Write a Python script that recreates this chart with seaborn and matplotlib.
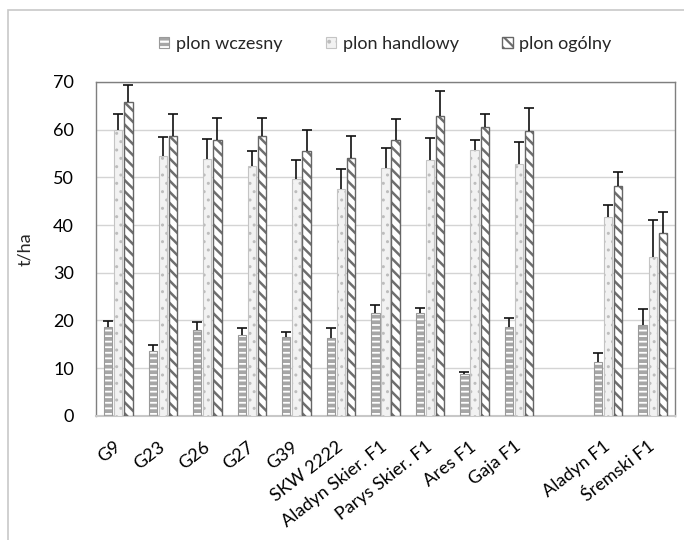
import numpy as np
import pandas as pd
import seaborn as sns
import matplotlib
matplotlib.use("Agg")
import matplotlib.pyplot as plt
from matplotlib.patches import Rectangle
from matplotlib.colors import to_rgba

# ---- data ----
categories = ["G9", "G23", "G26", "G27", "G39", "SKW 2222", "Aladyn Skier. F1",
              "Parys Skier. F1", "Ares F1", "Gaja F1", "", "Aladyn F1", "Śremski F1"]
series = ["plon wczesny", "plon handlowy", "plon ogólny"]

wczesny = [18.7, 13.5, 18.0, 17.0, 16.6, 16.4, 21.6, 21.6, 8.8, 18.6, np.nan, 11.2, 19.0]
handlowy = [60.0, 54.5, 53.8, 52.4, 49.6, 47.5, 52.0, 53.6, 55.7, 52.7, np.nan, 41.6, 33.2]
ogolny = [65.8, 58.6, 57.8, 58.7, 55.6, 54.0, 57.9, 62.8, 60.6, 59.7, np.nan, 48.2, 38.3]

wczesny_err = [1.1, 1.3, 1.7, 1.3, 1.0, 1.9, 1.7, 0.9, 0.3, 1.8, np.nan, 1.9, 3.4]
handlowy_err = [3.3, 4.0, 4.2, 3.1, 4.0, 4.2, 4.1, 4.7, 2.1, 4.8, np.nan, 2.6, 7.9]
ogolny_err = [3.6, 4.6, 4.6, 3.7, 4.4, 4.7, 4.3, 5.4, 2.6, 4.9, np.nan, 3.0, 4.5]

yticks = [0, 10, 20, 30, 40, 50, 60, 70]

rows = []
for s, vals, errs in zip(series, [wczesny, handlowy, ogolny],
                         [wczesny_err, handlowy_err, ogolny_err]):
    for c, v, e in zip(categories, vals, errs):
        if not np.isnan(v):
            rows.append({"cat": c, "series": s, "value": v, "err": e})
df = pd.DataFrame(rows)

# ---- style ----
sns.set_style("white")
plt.rcParams["font.family"] = ["Lato", "DejaVu Sans"]
plt.rcParams["hatch.linewidth"] = 1.6

fig = plt.figure(figsize=(6.84, 5.40), dpi=100)
ax = fig.add_axes([96 / 684, 1 - 415.7 / 540, (675 - 96) / 684, (415.7 - 82) / 540])

sns.barplot(data=df, x="cat", y="value", hue="series", order=categories,
            hue_order=series, width=0.68, gap=0.18, errorbar=None,
            legend=False, ax=ax, zorder=3)

styles = {
    "plon wczesny": dict(fc="#a6a6a6", ec="#9a9a9a", hc="white", lw=0.8,
                         hatch="---", hlw=1.3),
    "plon handlowy": dict(fc="#f2f2f2", ec="#c4c4c4", hc="#bdbdbd", lw=0.8,
                          hatch="..", hlw=1.0),
    "plon ogólny": dict(fc="white", ec="#666666", hc="#6e6e6e", lw=1.0,
                        hatch="\\\\\\", hlw=1.8),
}
err_lookup = {(r.cat, r.series): r.err for r in df.itertuples()}


def style_patch(p, st):
    p.set_facecolor(st["fc"])
    p.set_edgecolor(st["ec"])
    p.set_linewidth(st["lw"])
    p.set_hatch(st["hatch"])
    if hasattr(p, "set_hatchcolor"):
        p.set_hatchcolor(st["hc"])
    else:
        p._hatch_color = to_rgba(st["hc"])
    if hasattr(p, "set_hatch_linewidth"):
        p.set_hatch_linewidth(st["hlw"])


handles = []
for s, cont in zip(series, ax.containers):
    st = styles[s]
    xs, ys, es = [], [], []
    for p in cont.patches:
        style_patch(p, st)
        xc = p.get_x() + p.get_width() / 2
        h = p.get_height()
        if np.isnan(h) or h == 0:
            continue
        cat = categories[int(round(xc))]
        xs.append(xc)
        ys.append(h)
        es.append(err_lookup[(cat, s)])
    eb = ax.errorbar(xs, ys, yerr=[np.zeros(len(es)), es], fmt="none",
                     ecolor="#111111", elinewidth=1.2, capsize=3.6, capthick=1.2,
                     zorder=4)
    caps = eb[1]
    if len(caps) >= 2:
        caps[0].set_visible(False)
    hp = Rectangle((0, 0), 1, 1, label=s)
    style_patch(hp, st)
    handles.append(hp)

ax.set_xlim(-0.5, len(categories) - 0.5)
ax.set_ylim(0, 70)
ax.set_yticks(yticks)
ax.set_yticklabels([str(t) for t in yticks])
ax.yaxis.grid(True, color="#d4d4d4", linewidth=1.0, zorder=0)
ax.xaxis.grid(False)
ax.set_axisbelow(True)
ax.set_xlabel("")
ax.set_ylabel("t/ha", fontsize=13, labelpad=14)

ax.tick_params(axis="y", length=0, pad=16, labelsize=13, colors="#000000")
ax.tick_params(axis="x", length=0, pad=21, labelsize=13, colors="#000000")
for lab in ax.get_xticklabels():
    lab.set_rotation(38)
    lab.set_ha("right")
    lab.set_va("center")
    lab.set_rotation_mode("anchor")

for side in ["top", "left", "right"]:
    ax.spines[side].set_color("#7f7f7f")
    ax.spines[side].set_linewidth(1.0)
ax.spines["bottom"].set_color("#c8c8c8")
ax.spines["bottom"].set_linewidth(1.5)

fig.legend(handles=handles, labels=series, loc="center",
           bbox_to_anchor=(385 / 684, 1 - 44 / 540), ncol=3, frameon=False,
           fontsize=13, handlelength=0.6, handleheight=0.6, handletextpad=0.35,
           columnspacing=2.4)

# outer chart border
fig.patches.append(Rectangle((8 / 684, -0.02), 1.0, 1 - 10 / 540 + 0.02,
                             transform=fig.transFigure, fill=False,
                             edgecolor="#c8c8c8", linewidth=1.2))

fig.savefig("out.png", dpi=100)
